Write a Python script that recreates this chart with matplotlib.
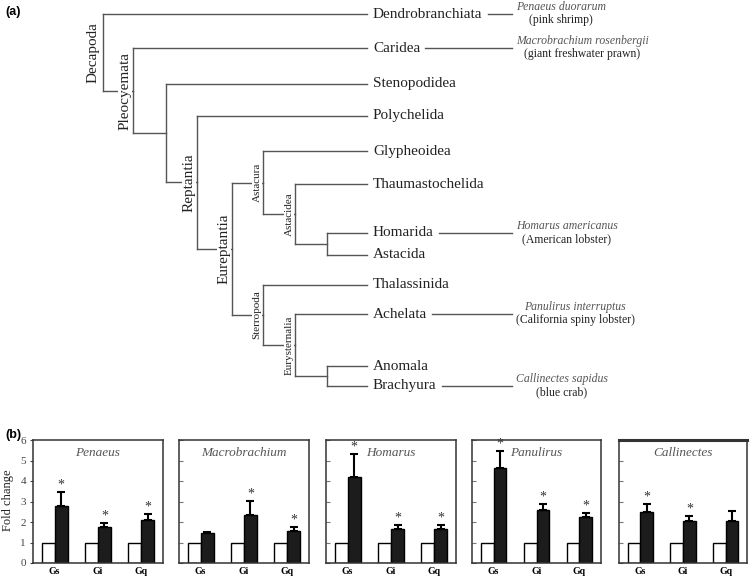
import matplotlib
matplotlib.use('Agg')
import matplotlib.pyplot as plt
import numpy as np

# ---------------- (a) phylogeny ----------------
leaves = ['Dendrobranchiata', 'Caridea', 'Stenopodidea', 'Polychelida', 'Glypheoidea',
          'Thaumastochelida', 'Homarida', 'Astacida', 'Thalassinida', 'Achelata',
          'Anomala', 'Brachyura']

# clade -> children ; names starting with '_' are unlabelled nodes
tree = {
    'Decapoda': ['Dendrobranchiata', 'Pleocyemata'],
    'Pleocyemata': ['Caridea', '_n1'],
    '_n1': ['Stenopodidea', 'Reptantia'],
    'Reptantia': ['Polychelida', 'Eureptantia'],
    'Eureptantia': ['Astacura', 'Sterropoda'],
    'Astacura': ['Glypheoidea', 'Astacidea'],
    'Astacidea': ['Thaumastochelida', '_n2'],
    '_n2': ['Homarida', 'Astacida'],
    'Sterropoda': ['Thalassinida', 'Eurysternalia'],
    'Eurysternalia': ['Achelata', '_n3'],
    '_n3': ['Anomala', 'Brachyura'],
}
small_clades = ['Astacura', 'Astacidea', 'Sterropoda', 'Eurysternalia']

species_leaf = ['Dendrobranchiata', 'Caridea', 'Homarida', 'Achelata', 'Brachyura']
species_latin = ['Penaeus duorarum', 'Macrobrachium rosenbergii', 'Homarus americanus',
                 'Panulirus interruptus', 'Callinectes sapidus']
species_common = ['(pink shrimp)', '(giant freshwater prawn)', '(American lobster)',
                  '(California spiny lobster)', '(blue crab)']

# ---------------- (b) fold change ----------------
panels = ['Penaeus', 'Macrobrachium', 'Homarus', 'Panulirus', 'Callinectes']
genes = ['Gs', 'Gi', 'Gq']
control = [1.0, 1.0, 1.0]
treated = {
    'Penaeus':       [2.80, 1.76, 2.12],
    'Macrobrachium': [1.45, 2.32, 1.58],
    'Homarus':       [4.20, 1.66, 1.66],
    'Panulirus':     [4.63, 2.58, 2.25],
    'Callinectes':   [2.49, 2.07, 2.07],
}
sem = {
    'Penaeus':       [0.67, 0.20, 0.28],
    'Macrobrachium': [0.05, 0.71, 0.16],
    'Homarus':       [1.13, 0.20, 0.20],
    'Panulirus':     [0.83, 0.32, 0.20],
    'Callinectes':   [0.38, 0.23, 0.49],
}
signif = {
    'Penaeus':       [True, True, True],
    'Macrobrachium': [False, True, True],
    'Homarus':       [True, True, True],
    'Panulirus':     [True, True, True],
    'Callinectes':   [True, True, False],
}

# ---------------- layout ----------------
W, H = 750, 578
leaf_y = [14, 48, 84, 116, 151, 184, 233, 255, 285, 314, 366, 386]
depth_x = [103, 133, 166, 197, 232, 263, 295, 327]
leaf_end = 367
serif = 'Liberation Serif'
line_c = '#555555'
text_c = '#222222'

fig = plt.figure(figsize=(W / 100, H / 100), dpi=100)
ax = fig.add_axes([0, 0, 1, 1])
ax.set_xlim(0, W)
ax.set_ylim(H, 0)
ax.axis('off')

ypos = {name: y for name, y in zip(leaves, leaf_y)}
depth = {}


def place(node, d):
    depth[node] = d
    if node in tree:
        kids = tree[node]
        for k in kids:
            place(k, d + 1)
        ypos[node] = (ypos[kids[0]] + ypos[kids[-1]]) / 2


place('Decapoda', 0)


def xpos(node):
    return depth_x[depth[node]] if node in tree else leaf_end


for node, kids in tree.items():
    nx = xpos(node)
    ax.plot([nx, nx], [ypos[kids[0]], ypos[kids[-1]]], color=line_c, lw=1)
    for k in kids:
        ax.plot([nx, xpos(k)], [ypos[k], ypos[k]], color=line_c, lw=1)

# clade labels
for node in tree:
    if node.startswith('_'):
        continue
    small = node in small_clades
    fs = 8 if small else 11
    if node == 'Decapoda':
        ax.text(xpos(node) - 10, (ypos['Dendrobranchiata'] + ypos['Pleocyemata']) / 2, node,
                rotation=90, ha='center', va='center', fontsize=fs, family=serif, color=text_c)
    else:
        off = 6 if small else 8
        ax.text(xpos(node) - off, ypos[node], node, rotation=90, ha='center', va='center',
                fontsize=fs, family=serif, color=text_c,
                bbox=dict(facecolor='white', edgecolor='none', pad=0.5))

leaf_txt = {}
for name in leaves:
    leaf_txt[name] = ax.text(leaf_end + 6, ypos[name], name, ha='left', va='center',
                             fontsize=11, family=serif, color=text_c)

renderer = fig.canvas.get_renderer()
inv = ax.transData.inverted()
block_left = 516
for leaf, latin, common in zip(species_leaf, species_latin, species_common):
    bb = leaf_txt[leaf].get_window_extent(renderer)
    xr = inv.transform((bb.x1, bb.y0))[0]
    ax.plot([xr + 5, 512], [ypos[leaf], ypos[leaf]], color=line_c, lw=1)
    t1 = ax.text(0, ypos[leaf] - 7, latin, style='italic', fontsize=8.5, family=serif,
                 color='#555555', ha='center', va='center')
    t2 = ax.text(0, ypos[leaf] + 6, common, fontsize=8.5, family=serif,
                 color=text_c, ha='center', va='center')
    w1 = t1.get_window_extent(renderer).width
    w2 = t2.get_window_extent(renderer).width
    cx = block_left + max(w1, w2) / 2
    t1.set_x(cx)
    t2.set_x(cx)

fig.text(5 / W, 1 - 12 / H, '(a)', fontsize=9, fontweight='bold', family='Liberation Sans',
         va='center', ha='left')
fig.text(5 / W, 1 - 435 / H, '(b)', fontsize=9, fontweight='bold', family='Liberation Sans',
         va='center', ha='left')

# ---------------- bar panels ----------------
p_left = [33, 179, 326, 472, 619]
p_right = [163, 309, 456, 601, 747]
p_top, p_bot = 440, 563
x = np.arange(len(genes))
bw = 0.3

for i, sp in enumerate(panels):
    bx = fig.add_axes([p_left[i] / W, 1 - p_bot / H,
                       (p_right[i] - p_left[i]) / W, (p_bot - p_top) / H])
    bx.bar(x - bw / 2, control, bw, color='white', edgecolor='black', lw=1)
    bx.bar(x + bw / 2, treated[sp], bw, color='#1c1c1c', edgecolor='black', lw=1)
    bx.errorbar(x + bw / 2, treated[sp], yerr=[np.zeros(3), sem[sp]], fmt='none',
                ecolor='black', elinewidth=1.5, capsize=3, capthick=1.5)
    for j in range(3):
        if signif[sp][j]:
            bx.text(x[j] + bw / 2, treated[sp][j] + sem[sp][j] + 0.02, '*', ha='center',
                    va='bottom', fontsize=10, family=serif, color='#333333')
    bx.set_xlim(-0.5, 2.5)
    bx.set_ylim(0, 6)
    bx.set_xticks(x)
    bx.set_xticklabels(genes, fontsize=7, fontweight='bold', family=serif)
    bx.tick_params(axis='x', length=0, pad=3)
    bx.set_yticks(range(7))
    if i == 0:
        bx.set_yticklabels([str(v) for v in range(7)], fontsize=8, family=serif, color='#444444')
        bx.tick_params(axis='y', direction='out', length=2, pad=3, color='#444444')
    else:
        bx.set_yticklabels([])
        bx.tick_params(axis='y', direction='in', length=3, color='#777777')
    for s in bx.spines.values():
        s.set_linewidth(1.1)
        s.set_color('#333333')
    if i == 4:
        bx.spines['top'].set_linewidth(2.2)
    bx.text(0.5, 0.895, sp, transform=bx.transAxes, ha='center', va='center',
            style='italic', fontsize=9.5, family=serif, color='#555555')

fig.text(8 / W, 1 - 500 / H, 'Fold change', rotation=90, ha='center', va='center',
         fontsize=9, family=serif, color=text_c)

fig.savefig('out.png', dpi=100)
